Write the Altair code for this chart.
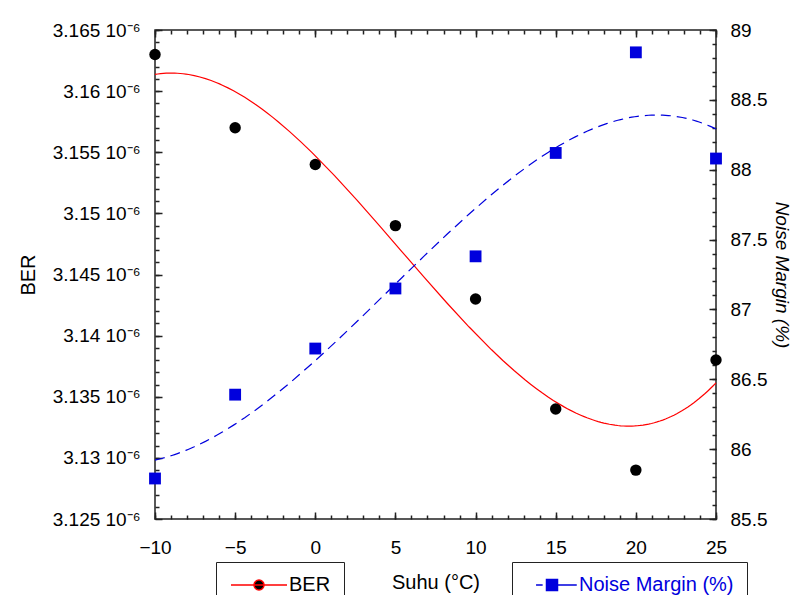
import altair as alt
import pandas as pd

# ---- data ----
suhu = [-10, -5, 0, 5, 10, 15, 20, 25]
ber = [3.163e-6, 3.157e-6, 3.154e-6, 3.149e-6, 3.143e-6, 3.134e-6, 3.129e-6, 3.138e-6]
noise_margin = [85.79, 86.39, 86.72, 87.15, 87.38, 88.12, 88.84, 88.08]

# ---- tick values ----
x_major = [-10, -5, 0, 5, 10, 15, 20, 25]
x_minor = list(range(-10, 26))
ber_major = [3.125e-6, 3.13e-6, 3.135e-6, 3.14e-6, 3.145e-6, 3.15e-6, 3.155e-6, 3.16e-6, 3.165e-6]
ber_minor = [round(3.125 + 0.001 * i, 3) * 1e-6 for i in range(41)]
nm_major = [85.5, 86, 86.5, 87, 87.5, 88, 88.5, 89]
nm_minor = [round(85.5 + 0.1 * i, 1) for i in range(36)]

FONT = "Liberation Sans"
BLUE = "#0000dd"
RED = "#ff0000"
INK = "#222222"

df = pd.DataFrame({
    "Suhu": suhu,
    "BER": ber,
    "NM": noise_margin,
    "s_ber": ["BER"] * len(suhu),
    "s_nm": ["Noise Margin (%)"] * len(suhu),
})

xscale = alt.Scale(domain=[-10, 25], nice=False, zero=False)
ber_scale = alt.Scale(domain=[3.125e-6, 3.165e-6], nice=False, zero=False)
nm_scale = alt.Scale(domain=[85.5, 89], nice=False, zero=False)


def tick_axis(orient, values, size):
    return alt.Axis(orient=orient, values=values, tickSize={"expr": str(-size)},
                    labels=False, title=None, domain=False, grid=False,
                    tickColor=INK, tickWidth=1.5)


x_bottom = alt.Axis(orient="bottom", values=x_major, tickSize={"expr": "-7"},
                    tickColor=INK, tickWidth=1.5, domain=False, grid=False,
                    labelFont=FONT, labelFontSize=19, labelColor="black", labelPadding=26,
                    labelFlush=False,
                    title="Suhu (°C)", titleFont=FONT, titleFontSize=20,
                    titleFontWeight="normal", titleColor="black", titlePadding=15)
x_top = tick_axis("top", x_major, 7)

y_left = alt.Axis(orient="left", values=ber_major, tickSize={"expr": "-7"},
                  tickColor=INK, tickWidth=1.5, domain=False, grid=False,
                  labelExpr="format(datum.value * 1e6, '.3~f') + ' 10⁻⁶'",
                  labelFont=FONT, labelFontSize=19, labelColor="black", labelPadding=22,
                  labelFlush=False,
                  title="BER", titleFont=FONT, titleFontSize=20,
                  titleFontWeight="normal", titleColor="black", titlePadding=14)
y_right = alt.Axis(orient="right", values=nm_major, tickSize={"expr": "-7"},
                   tickColor=INK, tickWidth=1.5, domain=False, grid=False,
                   format=".1~f", labelFlush=False,
                   labelFont=FONT, labelFontSize=19, labelColor="black", labelPadding=21,
                   title="Noise Margin (%)", titleFont=FONT, titleFontSize=19,
                   titleFontWeight="normal", titleFontStyle="italic", titleColor="black",
                   titleAngle=90, titlePadding=5)

BER_SYMBOL = "M-5.6,0H5.6M1,0A1,1,0,1,1,-1,0A1,1,0,1,1,1,0Z"
NM_SYMBOL = "M-2.9,0H-1.7M1,0H4.5M-1,-1H1V1H-1Z"

base = alt.Chart(df)

ber_fit = base.transform_regression("Suhu", "BER", method="poly", order=3).mark_line(
    color=RED, strokeWidth=1.2
).encode(
    x=alt.X("Suhu:Q", scale=xscale, axis=tick_axis("bottom", x_minor, 4)),
    y=alt.Y("BER:Q", scale=ber_scale, axis=tick_axis("left", ber_minor, 4)),
)

nm_fit = base.transform_regression("Suhu", "NM", method="poly", order=3).mark_line(
    color=BLUE, strokeWidth=1.2, strokeDash=[10, 6]
).encode(
    x=alt.X("Suhu:Q", scale=xscale, axis=tick_axis("top", x_minor, 4)),
    y=alt.Y("NM:Q", scale=nm_scale, axis=tick_axis("right", nm_minor, 4)),
)

ber_pts = base.mark_point(filled=True, shape="circle", size=130, opacity=1).encode(
    x=alt.X("Suhu:Q", scale=xscale, axis=x_bottom),
    y=alt.Y("BER:Q", scale=ber_scale, axis=y_left),
    color=alt.Color("s_ber:N", scale=alt.Scale(range=["black"]),
                    legend=alt.Legend(title=None, orient="none", legendX=61, legendY=532,
                                      symbolType=BER_SYMBOL, symbolSize=100,
                                      symbolStrokeColor=RED, symbolStrokeWidth=1.5,
                                      symbolOffset=20, labelOffset=20,
                                      labelFont=FONT, labelFontSize=20, labelColor="black",
                                      strokeColor=INK, fillColor="white", padding=13,
                                      cornerRadius=0)),
)

nm_pts = base.mark_point(filled=True, shape="square", size=140, opacity=1).encode(
    x=alt.X("Suhu:Q", scale=xscale, axis=x_top),
    y=alt.Y("NM:Q", scale=nm_scale, axis=y_right),
    color=alt.Color("s_nm:N", scale=alt.Scale(range=[BLUE]),
                    legend=alt.Legend(title=None, orient="none", legendX=357, legendY=532,
                                      symbolType=NM_SYMBOL, symbolSize=121,
                                      symbolStrokeColor=BLUE, symbolStrokeWidth=1.5,
                                      symbolOffset=17, labelOffset=17,
                                      labelFont=FONT, labelFontSize=20, labelColor=BLUE,
                                      strokeColor=INK, fillColor="white", padding=13,
                                      cornerRadius=0)),
)

chart = alt.layer(ber_fit, nm_fit, ber_pts, nm_pts).resolve_scale(
    y="independent", color="independent"
).resolve_axis(
    x="independent", y="independent"
).properties(
    width=561, height=489,
    autosize=alt.AutoSizeParams(type="none"),
    padding={"left": 147, "top": 22, "right": 79, "bottom": 76},
    background="white",
).configure_view(stroke=INK, strokeWidth=1.5)

chart.save("out.html", embed_options={"renderer": "svg", "actions": False})
